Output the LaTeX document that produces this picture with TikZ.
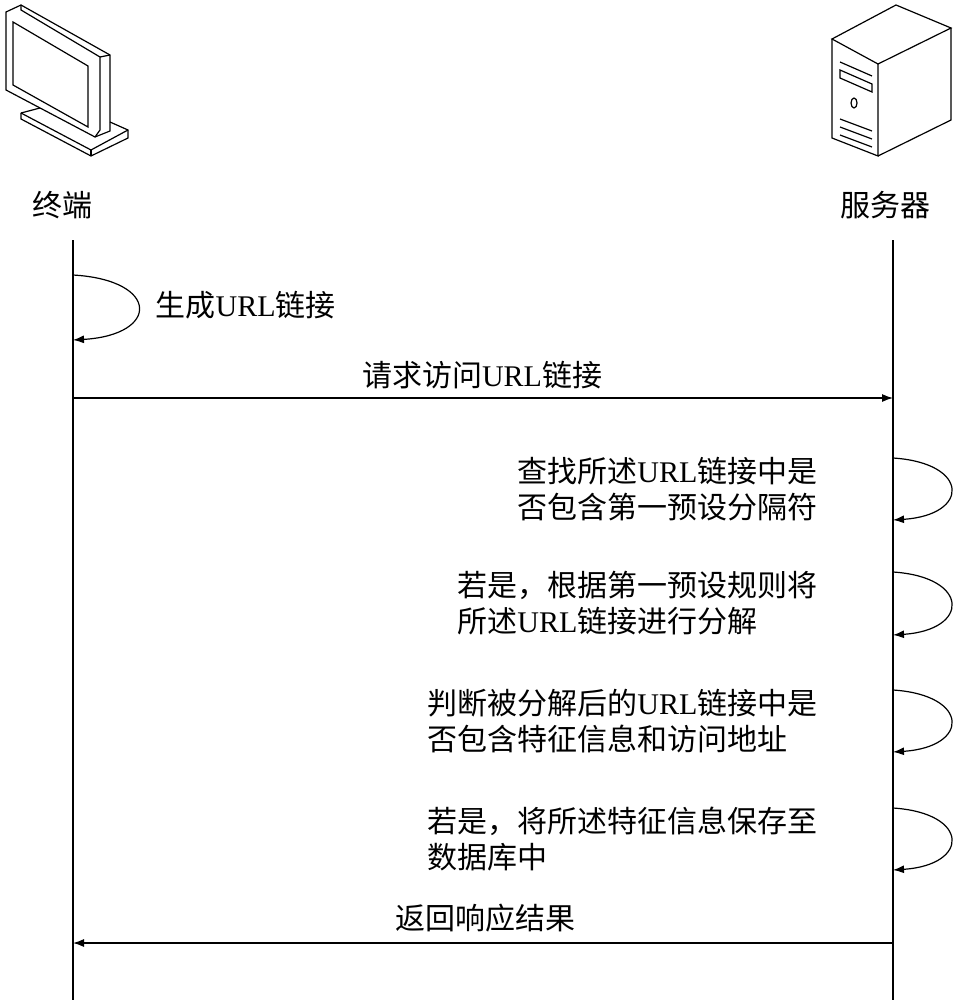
\documentclass[tikz,border=0pt]{standalone}
\usepackage{fontspec}
\setmainfont{Liberation Serif}
\newfontfamily\cjk{Noto Sans CJK SC}
\usetikzlibrary{arrows.meta}
\begin{document}
\begin{tikzpicture}[x=1pt,y=-1pt,font=\fontsize{30}{36}\selectfont,line width=1.2pt,
    msg/.style={-{Latex[length=11pt,width=8pt]}},
    selfloop/.style={-{Latex[length=11pt,width=8pt]}},
    lbl/.style={align=left,inner sep=0pt}]
\useasboundingbox (0,0) rectangle (957,1000);
% terminal icon
\draw (6,12) -- (21,5) -- (110,55) -- (110,131) -- (95,137) -- (6,90) -- cycle;
\draw (21,5) -- (21,10) -- (100,57) -- (100,130) -- (95,137);
\draw (100,57) -- (110,55);
\draw (13,22) -- (88,66) -- (88,127) -- (13,85) -- cycle;
\draw (21,113) -- (21,119) -- (91,156) -- (128,138) -- (128,130) -- (110,122);
\draw (21,113) -- (40,108);
\draw (21,113) -- (91,150) -- (128,130);
\draw (91,150) -- (91,156);
% server icon
\draw (832,39) -- (896,5) -- (951,28) -- (878,64) -- cycle;
\draw (832,39) -- (832,138) -- (878,156) -- (878,64);
\draw (878,156) -- (951,120) -- (951,28);
\draw (840,62) -- (872,76) (840,70) -- (872,84) -- (872,92) -- (840,78) -- cycle;
\draw (854,103) ellipse (3 and 5);
\foreach \dy in {0,8,16}
  \draw (840,119+\dy) -- (872,131+\dy);
% participants
\node[lbl] (term) at (62,205) {\cjk 终端};
\node[lbl] (serv) at (885,205) {\cjk 服务器};
\coordinate (tTop) at (73,240);
\coordinate (tBot) at (73,1000);
\coordinate (sTop) at (893,240);
\coordinate (sBot) at (893,1000);
\draw (tTop) -- (tBot);
\draw (sTop) -- (sBot);
% terminal step
\coordinate (g1) at (73,275);
\coordinate (g2) at (73,340);
\draw[selfloop] (g1) .. controls (160,280) and (160,335) .. (g2);
\node[lbl,anchor=west] (gen) at (155,305) {{\cjk 生成}URL{\cjk 链接}};
% request
\coordinate (r1) at (73,398);
\coordinate (r2) at (893,398);
\draw[msg] (r1) -- (r2);
\node[lbl] (req) at (482,375) {{\cjk 请求访问}URL{\cjk 链接}};
% server steps
\foreach \ya/\yb/\txt in {
  458/520/{{\cjk 查找所述}URL{\cjk 链接中是}\\{\cjk 否包含第一预设分隔符}},
  572/635/{{\cjk 若是，根据第一预设规则将}\\{\cjk 所述}URL{\cjk 链接进行分解}},
  690/752/{{\cjk 判断被分解后的}URL{\cjk 链接中是}\\{\cjk 否包含特征信息和访问地址}},
  808/870/{{\cjk 若是，将所述特征信息保存至}\\{\cjk 数据库中}}}{
  \draw[selfloop] (893,\ya) .. controls (970,\ya+5) and (970,\yb-5) .. (893,\yb);
  \node[lbl,anchor=east] at (818,\ya/2+\yb/2) {\txt};
}
% response
\coordinate (b1) at (893,943);
\coordinate (b2) at (73,943);
\draw[msg] (b1) -- (b2);
\node[lbl] (resp) at (485,918) {\cjk 返回响应结果};
\end{tikzpicture}
\end{document}
